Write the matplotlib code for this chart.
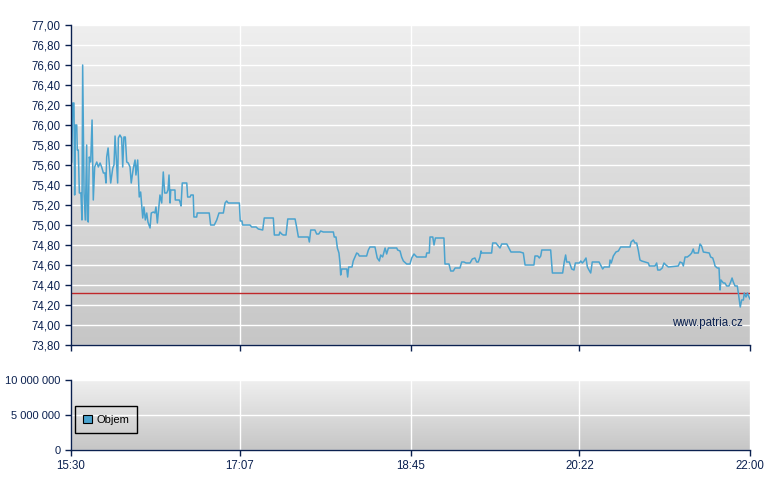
import matplotlib
matplotlib.use("Agg")
import matplotlib.pyplot as plt
import numpy as np
from matplotlib.patches import Patch
from matplotlib.ticker import FuncFormatter
from matplotlib.colors import LinearSegmentedColormap

# ---- data ----
tick_labels = ["15:30", "17:07", "18:45", "20:22", "22:00"]
minutes = [0.4, 1.0, 1.7, 2.1, 2.5, 3.3, 3.6, 4.2, 4.8, 5.7, 6.3, 6.7, 7.5, 8.2, 9.0, 9.4, 9.9,
           10.5, 11.3, 12.1, 12.8, 13.6, 14.8, 15.7, 16.7, 17.6, 18.6, 19.5, 20.1, 20.5, 21.3,
           22.0, 22.8, 24.0, 24.7, 25.3, 26.2, 26.8, 27.2, 28.1, 29.1, 29.7, 30.4, 31.2, 32.0,
           32.9, 33.9, 34.6, 35.8, 36.8, 37.3, 38.3, 39.2, 40.0, 41.2, 41.9, 42.7, 43.5, 44.2,
           45.4, 46.1, 47.3, 48.2, 48.8, 49.6, 51.1, 52.1, 53.0, 53.8, 55.0, 55.7, 56.3, 56.9,
           57.3, 59.7, 59.9, 62.2, 62.6, 63.2, 63.9, 66.5, 67.0, 68.4, 68.9, 70.2, 70.6, 72.2,
           72.5, 79.4, 80.2, 82.3, 83.7, 85.0, 87.5, 88.5, 89.4, 90.3, 96.7, 97.2, 98.2, 98.6,
           102.8, 103.8, 106.3, 107.6, 110.1, 111.0, 116.2, 116.8, 119.5, 120.0, 121.0, 121.9,
           123.5, 124.5, 128.7, 129.6, 130.6, 136.3, 136.9, 137.7, 140.1, 141.1, 142.3, 143.4,
           144.9, 150.7, 151.2, 152.2, 153.0, 153.9, 154.5, 154.9, 155.5, 158.4, 158.9, 159.5,
           161.4, 162.1, 163.1, 164.1, 165.0, 165.6, 169.8, 170.8, 171.7, 174.6, 175.2, 175.9,
           177.1, 177.9, 179.0, 180.4, 181.3, 182.3, 187.1, 187.6, 189.0, 189.9, 190.9, 192.8,
           194.7, 195.7, 197.0, 198.6, 203.9, 204.3, 205.8, 206.2, 207.8, 208.5, 209.3, 214.2,
           214.8, 217.1, 218.1, 219.6, 220.6, 223.4, 224.4, 225.7, 226.9, 229.2, 230.5, 232.0,
           233.0, 233.9, 234.9, 235.5, 235.9, 241.6, 242.2, 244.1, 245.4, 246.4, 247.4, 250.3,
           251.2, 252.7, 257.9, 259.8, 260.8, 265.9, 266.5, 268.1, 269.0, 269.8, 270.4, 275.5,
           276.5, 282.4, 283.3, 284.1, 284.7, 286.2, 287.6, 288.9, 289.7, 292.0, 292.8, 293.7,
           294.7, 295.8, 296.6, 297.5, 298.5, 299.4, 303.3, 304.2, 305.4, 306.2, 309.2, 309.6,
           310.3, 311.5, 313.0, 314.4, 315.7, 321.1, 321.7, 323.0, 323.9, 324.9, 325.8, 326.8,
           327.8, 329.7, 331.6, 332.2, 335.4, 336.4, 337.0, 338.3, 339.6, 340.6, 341.7, 343.1,
           348.8, 349.8, 351.1, 351.7, 352.7, 354.0, 355.5, 356.5, 357.4, 358.0, 360.3, 361.3,
           362.2, 363.2, 366.6, 367.4, 368.6, 369.5, 369.9, 371.2, 372.2, 372.8, 373.3, 374.7,
           375.6, 376.6, 377.9, 378.9, 379.7, 380.4, 381.4, 382.7, 383.3, 384.4, 385.2, 386.2,
           386.7, 387.7, 388.5, 389.4, 390.0]
prices = [75.63, 76.22, 76.22, 75.30, 76.00, 76.00, 75.75, 75.75, 75.32, 75.32, 75.05, 76.60,
          75.32, 75.05, 75.80, 75.05, 75.03, 75.68, 75.63, 76.05, 75.25, 75.58, 75.63, 75.58,
          75.62, 75.58, 75.52, 75.52, 75.42, 75.68, 75.77, 75.60, 75.42, 75.57, 75.60, 75.89,
          75.60, 75.42, 75.87, 75.90, 75.87, 75.58, 75.88, 75.88, 75.63, 75.62, 75.58, 75.42,
          75.57, 75.65, 75.50, 75.65, 75.28, 75.33, 75.07, 75.18, 75.05, 75.12, 75.03, 74.97,
          75.12, 75.13, 75.12, 75.18, 75.02, 75.30, 75.22, 75.53, 75.32, 75.32, 75.35, 75.50,
          75.22, 75.35, 75.35, 75.25, 75.25, 75.23, 75.19, 75.42, 75.42, 75.28, 75.28, 75.30,
          75.30, 75.08, 75.08, 75.12, 75.12, 75.00, 75.00, 75.05, 75.12, 75.12, 75.22, 75.24,
          75.22, 75.22, 75.04, 75.04, 75.00, 75.00, 74.98, 74.98, 74.96, 74.95, 75.07, 75.07,
          74.90, 74.90, 74.93, 74.91, 74.90, 74.90, 75.06, 75.06, 74.98, 74.88, 74.88, 74.83,
          74.95, 74.95, 74.91, 74.91, 74.94, 74.93, 74.93, 74.88, 74.88, 74.77, 74.72, 74.62,
          74.50, 74.56, 74.56, 74.48, 74.58, 74.58, 74.64, 74.68, 74.72, 74.71, 74.69, 74.69,
          74.75, 74.78, 74.78, 74.73, 74.67, 74.64, 74.70, 74.68, 74.77, 74.71, 74.77, 74.77,
          74.75, 74.74, 74.68, 74.64, 74.61, 74.61, 74.67, 74.71, 74.68, 74.68, 74.72, 74.72,
          74.88, 74.88, 74.80, 74.87, 74.87, 74.61, 74.61, 74.54, 74.54, 74.57, 74.57, 74.63,
          74.63, 74.62, 74.62, 74.66, 74.67, 74.63, 74.63, 74.68, 74.74, 74.72, 74.72, 74.82,
          74.82, 74.79, 74.77, 74.81, 74.81, 74.78, 74.73, 74.73, 74.72, 74.60, 74.60, 74.69,
          74.69, 74.67, 74.69, 74.75, 74.75, 74.52, 74.52, 74.63, 74.70, 74.63, 74.63, 74.56,
          74.55, 74.62, 74.62, 74.64, 74.62, 74.64, 74.67, 74.58, 74.55, 74.52, 74.63, 74.63,
          74.60, 74.56, 74.58, 74.58, 74.65, 74.62, 74.69, 74.73, 74.74, 74.78, 74.78, 74.83,
          74.85, 74.82, 74.82, 74.75, 74.65, 74.64, 74.63, 74.62, 74.59, 74.59, 74.62, 74.55,
          74.55, 74.57, 74.62, 74.60, 74.58, 74.59, 74.63, 74.62, 74.59, 74.68, 74.68, 74.70,
          74.72, 74.76, 74.72, 74.72, 74.81, 74.79, 74.73, 74.72, 74.68, 74.67, 74.62, 74.59,
          74.57, 74.57, 74.35, 74.45, 74.42, 74.42, 74.39, 74.39, 74.43, 74.47, 74.43, 74.39,
          74.39, 74.32, 74.18, 74.25, 74.25, 74.32, 74.28, 74.32, 74.28, 74.26]
prev_close = 74.32
price_ticks = [73.8, 74.0, 74.2, 74.4, 74.6, 74.8, 75.0, 75.2, 75.4, 75.6, 75.8, 76.0, 76.2,
               76.4, 76.6, 76.8, 77.0]
volume_ticks = [0, 5000000, 10000000]
volume_times = []
volume_values = []
legend_label = "Objem"
watermark = "www.patria.cz"

# ---- style ----
NAVY = "#0b2150"
LINE = "#4aa3cf"
plt.rcParams['font.family'] = ['Liberation Sans', 'DejaVu Sans']
plt.rcParams['font.size'] = 8


def tmin(s):
    h, m = s.split(":")
    return (int(h) * 60 + int(m)) - (15 * 60 + 30)


xt = [tmin(s) for s in tick_labels]

fig = plt.figure(figsize=(7.8, 4.9), dpi=100)
ax = fig.add_axes([71 / 780, 1 - 345 / 490, 679 / 780, 320 / 490])
axv = fig.add_axes([71 / 780, 1 - 450 / 490, 679 / 780, 70 / 490])

grad = np.linspace(0, 1, 256).reshape(-1, 1)
cmap = LinearSegmentedColormap.from_list("g", ["#efefef", "#c6c6c6"])

for a in (ax, axv):
    a.imshow(grad, cmap=cmap, aspect="auto", extent=[0, 1, 0, 1], transform=a.transAxes,
             zorder=0, interpolation="bilinear")
    a.set_xlim(0, 390)
    for s in ("top", "right"):
        a.spines[s].set_visible(False)
    for s in ("left", "bottom"):
        a.spines[s].set_color(NAVY)
        a.spines[s].set_linewidth(1.0)
        a.spines[s].set_zorder(5)
    a.tick_params(colors=NAVY, labelcolor=NAVY, length=4, width=1, direction="out",
                  labelsize=8.3)
    a.set_xticks(xt)
    a.grid(True, color="white", linewidth=1.0, zorder=1)
    a.set_axisbelow(True)

ax.set_ylim(73.8, 77.0)
ax.set_yticks(price_ticks)
ax.yaxis.set_major_formatter(FuncFormatter(lambda v, p: f"{v:.2f}".replace(".", ",")))
ax.set_xticklabels([])
ax.axhline(prev_close, color="#c0282a", linewidth=1.0, zorder=2)
ax.plot(minutes, prices, color=LINE, linewidth=1.1, zorder=3)
ax.text(0.99, 0.069, watermark, transform=ax.transAxes, ha="right", va="center",
        color=NAVY, fontsize=8.3, zorder=4)

axv.set_ylim(0, 10000000)
axv.set_yticks(volume_ticks)
axv.yaxis.set_major_formatter(FuncFormatter(lambda v, p: f"{int(v):,}".replace(",", " ")))
axv.tick_params(axis="y", labelsize=8)
axv.set_xticklabels(tick_labels)
if volume_values:
    axv.bar(volume_times, volume_values, color=LINE, width=1, zorder=3)
leg = axv.legend(handles=[Patch(facecolor=LINE, edgecolor="black", linewidth=0.8,
                                label=legend_label)],
                 loc="lower left", bbox_to_anchor=(0.006, 0.243), borderaxespad=0,
                 fancybox=False, framealpha=1, edgecolor="black", handlelength=0.75,
                 handleheight=0.75, handletextpad=0.4, borderpad=0.75, fontsize=8)
frame = leg.get_frame()
frame.set_linewidth(1.0)
frame.set_edgecolor("black")
frame.set_facecolor("none")
for t in leg.get_texts():
    t.set_color("black")

fig.savefig("out.png", dpi=100, facecolor="white")
